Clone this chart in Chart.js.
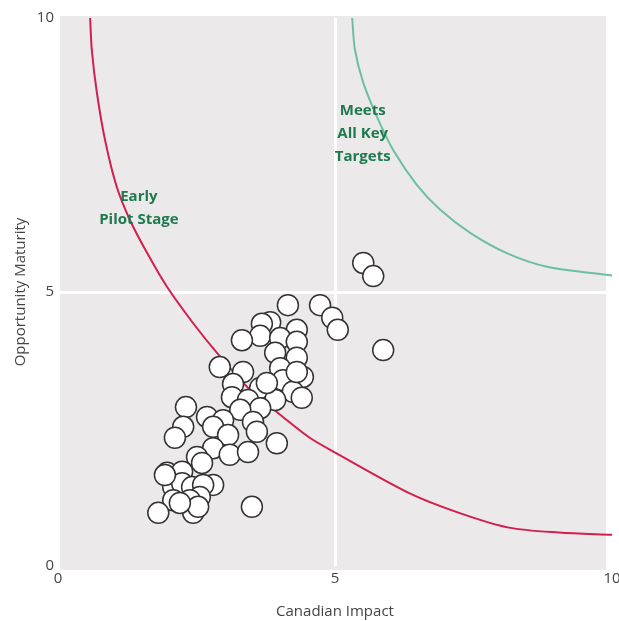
<!DOCTYPE html>
<html>
<head>
<meta charset="utf-8">
<script src="https://cdn.jsdelivr.net/npm/chart.js@4"></script>
<style>
  html, body { margin: 0; padding: 0; background: #fff; }
  #wrap { width: 619px; height: 621px; }
</style>
</head>
<body>
<div id="wrap"><canvas id="chart" width="619" height="621"></canvas></div>
<script>
// projects: canadian impact (x) vs opportunity maturity (y)
const impact = [
  5.51, 5.69, 5.87, 4.73, 4.95, 5.05, 4.15, 3.83, 3.68, 4.31,
  3.65, 4.01, 4.31, 3.32, 3.92, 4.31, 4.01, 4.42, 4.06, 3.65,
  4.24, 4.40, 3.92, 4.31, 3.77, 2.92, 3.34, 3.16, 3.14, 3.43,
  3.65, 3.29, 3.52, 3.59, 3.95, 2.31, 2.26, 2.11, 2.69, 2.98,
  2.80, 3.07, 2.80, 2.51, 2.60, 3.10, 3.43, 1.97, 2.24, 2.08,
  2.24, 2.42, 2.80, 2.62, 2.56, 2.38, 2.44, 2.53, 2.08, 2.20,
  1.81, 3.50, 1.93
];
const maturity = [
  5.53, 5.29, 3.94, 4.76, 4.53, 4.31, 4.76, 4.45, 4.42, 4.31,
  4.20, 4.16, 4.09, 4.12, 3.89, 3.80, 3.61, 3.45, 3.39, 3.25,
  3.18, 3.07, 3.03, 3.54, 3.34, 3.63, 3.54, 3.32, 3.08, 3.03,
  2.88, 2.85, 2.63, 2.45, 2.24, 2.90, 2.54, 2.34, 2.72, 2.66,
  2.54, 2.39, 2.15, 1.99, 1.88, 2.03, 2.08, 1.70, 1.72, 1.44,
  1.51, 1.44, 1.48, 1.48, 1.26, 1.20, 0.97, 1.08, 1.20, 1.15,
  0.97, 1.08, 1.66
];

// threshold curves
const pilotX = [0.58, 0.61, 0.70, 0.85, 1.06, 1.30, 1.61, 1.97, 2.44, 2.87, 3.47, 4.06, 4.53, 5.02, 6.34, 7.24, 8.14, 9.04, 10];
const pilotY = [10, 9.42, 8.65, 7.77, 6.92, 6.31, 5.71, 5.09, 4.43, 3.89, 3.21, 2.72, 2.35, 2.06, 1.33, 0.97, 0.70, 0.61, 0.57];
const targetX = [5.31, 5.36, 5.51, 5.76, 6.05, 6.48, 6.90, 7.44, 8.10, 8.83, 10];
const targetY = [10, 9.42, 8.82, 8.19, 7.59, 6.95, 6.50, 6.08, 5.71, 5.46, 5.30];

const axisTicks = [0, 5, 10];

const labelFont = "'Open Sans', 'Noto Sans', sans-serif";

// zone captions, in data units
const captions = [
  { lines: ["Early", "Pilot Stage"], x: 1.46, y: 6.74 },
  { lines: ["Meets", "All Key", "Targets"], x: 5.5, y: 8.3 }
];

const toPoints = (xs, ys) => xs.map((x, i) => ({ x: x, y: ys[i] }));

const plotBackground = {
  id: "plotBackground",
  beforeDraw(chart) {
    const { ctx, chartArea: a } = chart;
    ctx.save();
    ctx.fillStyle = "#ebe9e9";
    ctx.fillRect(a.left + 2, a.top - 2, a.right - a.left - 8, a.bottom - a.top + 6);
    ctx.restore();
  }
};

const zoneCaptions = {
  id: "zoneCaptions",
  afterDatasetsDraw(chart) {
    const { ctx, scales } = chart;
    ctx.save();
    ctx.fillStyle = "#1e7a4e";
    ctx.font = "bold 15px " + labelFont;
    ctx.textAlign = "center";
    ctx.textBaseline = "middle";
    captions.forEach((c) => {
      const px = scales.x.getPixelForValue(c.x);
      let py = scales.y.getPixelForValue(c.y);
      c.lines.forEach((line) => {
        ctx.fillText(line, px, py);
        py += 23;
      });
    });
    ctx.restore();
  }
};

new Chart(document.getElementById("chart").getContext("2d"), {
  type: "scatter",
  data: {
    datasets: [
      {
        label: "Projects",
        data: toPoints(impact, maturity),
        order: 0,
        pointRadius: 10.5,
        pointBackgroundColor: "#ffffff",
        pointBorderColor: "#333333",
        pointBorderWidth: 1.5
      },
      {
        label: "Early Pilot Stage",
        data: toPoints(pilotX, pilotY),
        order: 1,
        showLine: true,
        pointRadius: 0,
        borderColor: "#d21f4e",
        borderWidth: 2,
        tension: 0.3
      },
      {
        label: "Meets All Key Targets",
        data: toPoints(targetX, targetY),
        order: 2,
        showLine: true,
        pointRadius: 0,
        borderColor: "#6cbfa2",
        borderWidth: 2,
        tension: 0.3
      }
    ]
  },
  options: {
    responsive: false,
    animation: false,
    layout: { padding: { top: 18, right: 7, left: 12, bottom: 0 }, autoPadding: false },
    plugins: {
      legend: { display: false },
      tooltip: { enabled: false }
    },
    scales: {
      x: {
        min: 0,
        max: 10,
        afterFit: (s) => {
          s.height = 55;
          s.paddingLeft = 0;
          s.paddingRight = 0;
        },
        afterBuildTicks: (s) => { s.ticks = axisTicks.map((v) => ({ value: v })); },
        ticks: {
          color: "#444",
          font: { family: labelFont, size: 15 },
          padding: 4,
          maxRotation: 0
        },
        grid: {
          color: (c) => (c.tick && c.tick.value === 5 ? "#ffffff" : "rgba(0,0,0,0)"),
          lineWidth: 3,
          drawTicks: false
        },
        border: { display: false },
        title: {
          display: true,
          text: "Canadian Impact",
          color: "#444",
          font: { family: labelFont, size: 15 },
          padding: { top: 0, bottom: 0 }
        }
      },
      y: {
        min: 0,
        max: 10,
        afterFit: (s) => { s.width = 46; },
        afterBuildTicks: (s) => { s.ticks = axisTicks.map((v) => ({ value: v })); },
        ticks: {
          color: "#444",
          font: { family: labelFont, size: 15 },
          padding: 4
        },
        grid: {
          color: (c) => (c.tick && c.tick.value === 5 ? "#ffffff" : "rgba(0,0,0,0)"),
          lineWidth: 3,
          drawTicks: false
        },
        border: { display: false },
        title: {
          display: true,
          text: "Opportunity Maturity",
          color: "#444",
          font: { family: labelFont, size: 15 },
          padding: { top: 0, bottom: 0 }
        }
      }
    }
  },
  plugins: [plotBackground, zoneCaptions]
});
</script>
</body>
</html>
